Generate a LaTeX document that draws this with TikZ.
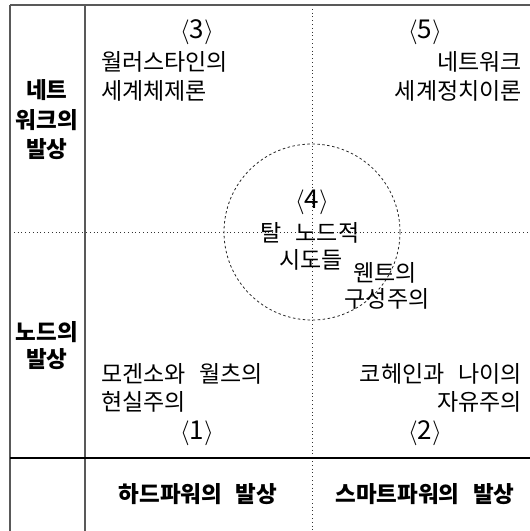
\documentclass[tikz,border=0pt]{standalone}
\usepackage{fontspec}
\newfontfamily\kr{Noto Sans CJK KR}
\begin{document}
\begin{tikzpicture}[x=1pt,y=-1pt,
  txt/.style={font={\kr\fontsize{23}{26}\selectfont\spaceskip=0.6em\relax}, inner sep=0pt},
  lbl/.style={txt, font={\kr\bfseries\fontsize{22.5}{26}\selectfont\spaceskip=0.6em\relax}},
  num/.style={txt, font={\kr\fontsize{26}{28}\selectfont}},
  grayline/.style={draw=black!65, line width=1.2pt},
  blackline/.style={draw=black, line width=1.2pt},
  dotline/.style={draw=black!80, line width=0.8pt, dash pattern=on 0.8pt off 3pt},
  dashcirc/.style={draw=black!85, line width=0.8pt, dash pattern=on 2.5pt off 2.5pt}]
\useasboundingbox (0,0) rectangle (530,531);
% frame coordinates
\coordinate (tl) at (10,5);
\coordinate (tr) at (530,5);
\coordinate (bl) at (10,531);
\coordinate (it) at (85,5);
\coordinate (ib) at (85,531);
\coordinate (hl) at (10,458);
\coordinate (hr) at (530,458);
\coordinate (vt) at (312,5);
\coordinate (vb) at (312,531);
\coordinate (ml) at (10,232);
\coordinate (mr) at (530,232);
\coordinate (c) at (312,232);
% dotted axes and circle
\draw[dotline] (vt) -- (vb);
\draw[dotline] (ml) -- (mr);
\draw[dashcirc] (c) circle[radius=88];
% solid frame
\draw[grayline] (tl) -- (tr);
\draw[grayline] (tl) -- (bl);
\draw[grayline] (it) -- (ib);
\draw[blackline] (hl) -- (hr);
% left labels
\node[lbl] (n1) at (47,90) {네트};
\node[lbl] (n2) at (47,120) {워크의};
\node[lbl] (n3) at (47,149) {발상};
\node[lbl] (d1) at (47,332) {노드의};
\node[lbl] (d2) at (47,359) {발상};
% bottom labels
\node[lbl] (hp) at (198,494) {하드파워의 발상};
\node[lbl] (sp) at (425,494) {스마트파워의 발상};
% quadrant 3
\node[num] (q3) at (197,32) {$\langle$3$\rangle$};
\node[txt, anchor=west] (q3a) at (101,62) {월러스타인의};
\node[txt, anchor=west] (q3b) at (101,91) {세계체제론};
% quadrant 5
\node[num] (q5) at (425,32) {$\langle$5$\rangle$};
\node[txt, anchor=east] (q5a) at (522,62) {네트워크};
\node[txt, anchor=east] (q5b) at (522,91) {세계정치이론};
% center 4
\node[num] (q4) at (312,202) {$\langle$4$\rangle$};
\node[txt] (q4a) at (310,233) {탈 노드적};
\node[txt] (q4b) at (311,260) {시도들};
\node[txt] (w1) at (385,273) {웬트의};
\node[txt] (w2) at (387,299) {구성주의};
% quadrant 1
\node[txt, anchor=west] (q1a) at (101,374) {모겐소와 월츠의};
\node[txt, anchor=west] (q1b) at (101,402) {현실주의};
\node[num] (q1) at (197,433) {$\langle$1$\rangle$};
% quadrant 2
\node[txt, anchor=east] (q2a) at (522,374) {코헤인과 나이의};
\node[txt, anchor=east] (q2b) at (522,402) {자유주의};
\node[num] (q2) at (425,433) {$\langle$2$\rangle$};
\end{tikzpicture}
\end{document}
